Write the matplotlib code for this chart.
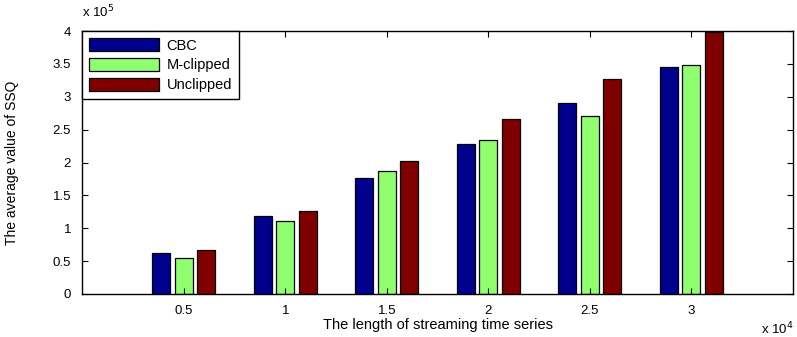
import numpy as np
import matplotlib.pyplot as plt
from matplotlib.ticker import FuncFormatter

# 데이터
lengths = [5000, 10000, 15000, 20000, 25000, 30000]
tick_labels = ["0.5", "1", "1.5", "2", "2.5", "3"]
cbc = [62000, 118600, 176400, 228000, 291000, 345700]
m_clipped = [54000, 111000, 187500, 234000, 271200, 348800]
unclipped = [67000, 126700, 202300, 265700, 326500, 398500]

series_names = ["CBC", "M-clipped", "Unclipped"]
colors = ["#00008F", "#8FFF70", "#800000"]

plt.rcParams["font.family"] = ["Liberation Sans", "DejaVu Sans"]

fig = plt.figure(figsize=(7.97, 3.37), dpi=100)
ax = fig.add_axes([0.103, 0.1276, 0.892, 0.7804])

x = np.array(lengths, dtype=float)
pitch = 1111
width = 889
for i, (vals, name, c) in enumerate(zip([cbc, m_clipped, unclipped], series_names, colors)):
    ax.bar(x + (i - 1) * pitch, vals, width=width, color=c,
           edgecolor="black", linewidth=0.9, label=name)

ax.set_xlim(0, 35000)
ax.set_ylim(0, 400000)
ax.set_xticks(lengths)
ax.set_xticklabels(tick_labels)
ax.set_yticks(np.arange(0, 400001, 50000))
ax.yaxis.set_major_formatter(FuncFormatter(lambda v, p: f"{v / 1e5:g}"))

ax.tick_params(direction="in", length=4, width=0.8, labelsize=9.5,
               top=True, right=True)
ax.tick_params(axis="y", pad=8)
ax.tick_params(axis="x", pad=8)
for s in ax.spines.values():
    s.set_linewidth(1.0)
    s.set_color("black")

ax.set_xlabel("The length of streaming time series", fontsize=10.5, labelpad=1)
ax.set_ylabel("The average value of SSQ", fontsize=10, labelpad=24)

# 지수 표시
ax.text(0.0, 1.04, r"x 10$^{5}$", transform=ax.transAxes, fontsize=9.5,
        ha="left", va="bottom")
ax.text(1.0, -0.1, r"x 10$^{4}$", transform=ax.transAxes, fontsize=9.5,
        ha="right", va="top")

leg = ax.legend(loc="upper left", bbox_to_anchor=(0, 1), borderaxespad=0,
                fancybox=False, framealpha=1, edgecolor="black", fontsize=10.5,
                handlelength=4.8, handleheight=1.0, handletextpad=0.5,
                labelspacing=0.35, borderpad=0.5)
leg.get_frame().set_linewidth(1.0)

fig.savefig("out.png", dpi=100)
